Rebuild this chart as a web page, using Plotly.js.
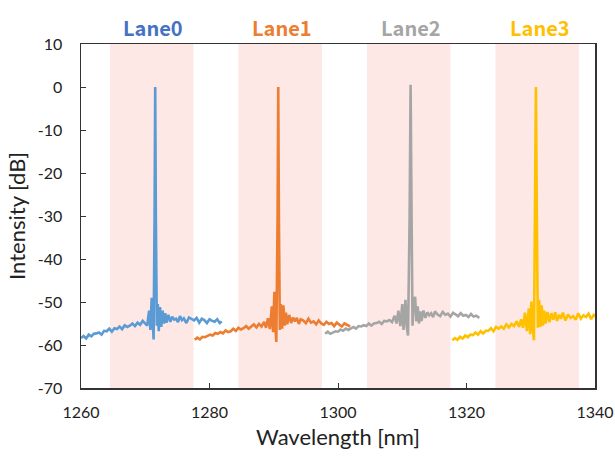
<!DOCTYPE html>
<html>
<head>
<meta charset="utf-8">
<script src="https://cdn.plot.ly/plotly-3.0.1.min.js"></script>
<style>html,body{margin:0;padding:0;background:#fff;}#chart{width:615px;height:457px;}</style>
</head>
<body>
<div id="chart"></div>
<script>
var laneNames = ["Lane0", "Lane1", "Lane2", "Lane3"];
var laneBandLo = [1264.5, 1284.5, 1304.5, 1324.5];
var laneBandHi = [1277.5, 1297.5, 1317.5, 1337.5];
var laneCenters = [1271.2, 1291.3, 1311.4, 1331.4];

var lane0X = [1260.0,1260.4,1260.8,1261.2,1261.6,1262.0,1262.4,1262.8,1263.2,1263.6,1264.0,1264.4,1264.8,1265.2,1265.6,1266.0,1266.4,1266.8,1267.2,1267.6,1268.0,1268.4,1268.8,1269.2,1269.6,1270.0,1270.3,1270.6,1270.8,1271.0,1271.15,1271.3,1271.45,1271.55,1271.65,1271.8,1271.95,1272.1,1272.3,1272.5,1272.7,1272.9,1273.1,1273.3,1273.6,1273.9,1274.2,1274.5,1274.8,1275.1,1275.4,1275.7,1276.0,1276.4,1276.8,1277.2,1277.6,1278.0,1278.4,1278.8,1279.2,1279.6,1280.0,1280.4,1280.8,1281.2,1281.6,1281.9];
var lane0Y = [-58.4,-57.9,-58.5,-57.6,-58.0,-57.4,-57.3,-57.1,-57.6,-56.7,-56.8,-56.2,-56.9,-56.1,-56.3,-55.7,-56.3,-55.4,-55.8,-55.5,-55.0,-55.6,-54.8,-55.3,-54.4,-55.0,-55.5,-52.0,-56.5,-49.0,-56.0,-58.7,-30,0,-30,-55.5,-50.5,-56.8,-51.2,-55.8,-52.0,-55.0,-52.6,-54.8,-53.0,-54.6,-53.4,-54.1,-53.9,-54.7,-53.3,-54.2,-53.8,-54.9,-53.6,-54.0,-54.3,-53.7,-54.8,-53.9,-54.2,-54.9,-54.0,-54.4,-54.6,-54.0,-54.9,-54.5];

var lane1X = [1277.7,1278.1,1278.5,1278.9,1279.3,1279.7,1280.1,1280.5,1280.9,1281.3,1281.7,1282.1,1282.5,1282.9,1283.3,1283.7,1284.1,1284.5,1284.9,1285.3,1285.7,1286.1,1286.5,1286.9,1287.3,1287.7,1288.1,1288.5,1288.8,1289.1,1289.4,1289.7,1289.9,1290.1,1290.25,1290.4,1290.6,1290.7,1290.8,1290.95,1291.1,1291.3,1291.5,1291.7,1291.9,1292.1,1292.4,1292.7,1293.0,1293.3,1293.6,1293.9,1294.2,1294.6,1295.0,1295.4,1295.8,1296.2,1296.6,1297.0,1297.4,1297.8,1298.2,1298.6,1299.0,1299.4,1299.8,1300.2,1300.6,1301.0,1301.4,1301.9];
var lane1Y = [-58.8,-58.3,-58.7,-58.1,-58.2,-57.9,-57.6,-57.8,-57.2,-57.4,-57.0,-57.3,-56.6,-57.0,-56.8,-56.2,-56.7,-56.0,-56.4,-56.1,-55.6,-56.2,-55.6,-55.2,-55.9,-55.1,-55.7,-54.6,-56.0,-53.8,-56.3,-51.0,-57.0,-47.6,-55.5,-59.3,-30,0,-30,-56.5,-50.5,-56.2,-50.8,-55.5,-52.5,-55.2,-53.0,-54.9,-53.6,-54.5,-53.7,-55.1,-54.0,-54.3,-54.9,-53.9,-54.8,-54.5,-55.2,-54.3,-55.0,-55.3,-54.6,-55.1,-54.9,-55.6,-54.8,-55.3,-55.7,-55.0,-55.4,-55.7];

var lane2X = [1298.0,1298.4,1298.8,1299.2,1299.6,1300.0,1300.4,1300.8,1301.2,1301.6,1302.0,1302.4,1302.8,1303.2,1303.6,1304.0,1304.4,1304.8,1305.2,1305.6,1306.0,1306.4,1306.8,1307.2,1307.6,1308.0,1308.4,1308.8,1309.1,1309.4,1309.7,1310.0,1310.2,1310.5,1310.7,1310.9,1311.15,1311.3,1311.45,1311.6,1311.8,1312.0,1312.2,1312.4,1312.6,1312.8,1313.0,1313.3,1313.6,1313.9,1314.2,1314.5,1314.8,1315.1,1315.5,1315.9,1316.3,1316.7,1317.1,1317.5,1317.9,1318.3,1318.7,1319.1,1319.5,1319.9,1320.3,1320.7,1321.1,1321.5,1322.0];
var lane2Y = [-57.4,-56.9,-57.4,-57.0,-56.8,-56.9,-56.4,-56.7,-56.2,-56.5,-56.2,-55.8,-56.2,-55.6,-55.7,-55.4,-55.6,-55.0,-55.5,-55.0,-54.9,-54.6,-55.1,-54.4,-54.5,-54.2,-54.7,-53.2,-55.0,-52.0,-55.6,-50.5,-56.5,-49.5,-55.8,-57.8,-30,0.5,-30,-55.5,-50.0,-48.8,-54.5,-51.0,-55.0,-52.2,-54.4,-52.0,-53.7,-52.4,-53.1,-52.6,-53.5,-52.2,-52.9,-53.3,-52.3,-53.0,-52.7,-53.4,-52.5,-52.9,-53.3,-52.6,-53.2,-53.0,-53.5,-52.8,-53.4,-53.2,-53.7];

var lane3X = [1317.8,1318.2,1318.6,1319.0,1319.4,1319.8,1320.2,1320.6,1321.0,1321.4,1321.8,1322.2,1322.6,1323.0,1323.4,1323.8,1324.2,1324.6,1325.0,1325.4,1325.8,1326.2,1326.6,1327.0,1327.4,1327.8,1328.2,1328.5,1328.8,1329.1,1329.4,1329.7,1329.9,1330.1,1330.3,1330.5,1330.65,1330.8,1330.95,1331.1,1331.3,1331.5,1331.7,1331.9,1332.1,1332.3,1332.6,1332.9,1333.2,1333.5,1333.8,1334.1,1334.4,1334.7,1335.0,1335.4,1335.8,1336.2,1336.6,1337.0,1337.4,1337.8,1338.2,1338.6,1339.0,1339.4,1339.8,1340.2];
var lane3Y = [-58.9,-58.4,-58.8,-58.1,-58.5,-57.8,-58.2,-57.6,-57.7,-57.1,-57.6,-56.8,-57.3,-56.7,-56.7,-56.1,-56.8,-55.8,-56.2,-55.7,-56.2,-55.2,-55.9,-55.1,-55.6,-54.5,-55.8,-54.0,-56.0,-52.5,-56.8,-51.5,-57.5,-49.9,-56.0,-58.9,-30,0,-30,-56.0,-49.5,-55.8,-50.8,-55.5,-52.0,-55.0,-52.3,-54.7,-52.6,-54.1,-52.4,-54.4,-53.0,-53.9,-52.5,-54.3,-52.9,-53.7,-53.3,-54.1,-52.6,-53.9,-53.1,-53.5,-52.7,-54.0,-53.0,-53.5];

var xTicks = [1260, 1280, 1300, 1320, 1340];
var yTicks = [-70, -60, -50, -40, -30, -20, -10, 0, 10];

var lineColors = ["#5B9BD5", "#ED7D31", "#A5A5A5", "#FFC000"];
var labelColors = ["#4472C4", "#ED7D31", "#A5A5A5", "#FFC000"];

var xs = [lane0X, lane1X, lane2X, lane3X];
var ys = [lane0Y, lane1Y, lane2Y, lane3Y];

var traces = xs.map(function (x, i) {
  return {
    type: "scatter", mode: "lines", x: x, y: ys[i], name: laneNames[i],
    line: {color: lineColors[i], width: 2.6}, hoverinfo: "skip"
  };
});

var shapes = laneBandLo.map(function (lo, i) {
  return {type: "rect", xref: "x", yref: "paper", x0: lo, x1: laneBandHi[i], y0: 0, y1: 1,
    fillcolor: "#FDE8E6", line: {width: 0}, layer: "below"};
});

var annotations = laneNames.map(function (n, i) {
  return {xref: "x", yref: "paper", x: laneCenters[i], y: 1.047, text: "<b>" + n + "</b>",
    showarrow: false, xanchor: "center", yanchor: "middle",
    font: {family: "Noto Sans CJK JP, Noto Sans, sans-serif", size: 20, color: labelColors[i]}};
});

var tickFont = {family: "Lato, Open Sans, sans-serif", size: 16, color: "#222"};
var layout = {
  width: 615, height: 457,
  margin: {l: 81, r: 20, t: 44, b: 69},
  paper_bgcolor: "#fff", plot_bgcolor: "#fff",
  showlegend: false,
  shapes: shapes,
  annotations: annotations,
  xaxis: {
    range: [1260, 1340], tickvals: xTicks, ticktext: xTicks.map(String),
    ticks: "inside", ticklen: 5, tickcolor: "#333", tickwidth: 1,
    showline: true, mirror: true, linecolor: "#333", linewidth: 1.5,
    showgrid: false, zeroline: false, tickfont: tickFont, ticklabelstandoff: 9,
    title: {text: "Wavelength [nm]", font: {family: "Lato, Open Sans, sans-serif", size: 22, color: "#222"}, standoff: 10}
  },
  yaxis: {
    range: [-70, 10], tickvals: yTicks, ticktext: yTicks.map(String),
    ticks: "inside", ticklen: 5, tickcolor: "#333", tickwidth: 1,
    showline: true, mirror: true, linecolor: "#333", linewidth: 1.5,
    showgrid: false, zeroline: false, tickfont: tickFont, ticklabelstandoff: 14,
    title: {text: "Intensity [dB]", font: {family: "Lato, Open Sans, sans-serif", size: 22, color: "#222"}, standoff: 6}
  }
};

Plotly.newPlot("chart", traces, layout, {staticPlot: true, displayModeBar: false});
</script>
</body>
</html>
